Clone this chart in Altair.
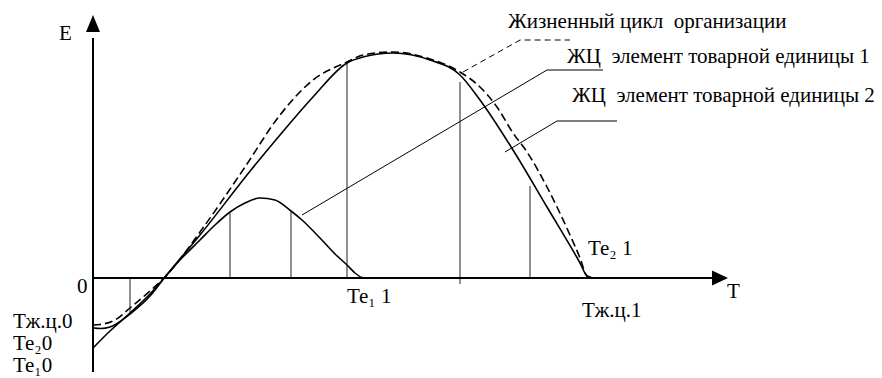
import altair as alt
import pandas as pd

# ---- values (t = time units, E = effect units) ----
# Life cycle of the organisation (dashed)
org_t = [0.0, 0.7, 2.2, 3.7, 5.7, 7.2, 10.7, 15.0, 18.7, 22.0, 25.4, 27.0, 30.0,
         33.7, 36.7, 38.7, 40.4, 42.0, 43.4, 45.4, 47.7, 48.7, 49.4, 50.0]
org_E = [-4.7, -4.65, -4.2, -3.0, -1.3, 0.1, 4.6, 10.8, 16.3, 19.8, 21.6, 22.3, 22.6,
         21.9, 20.6, 19.1, 17.1, 14.5, 12.6, 9.1, 4.3, 2.0, 0.2, 0.0]
# Life cycle of element of product unit 2 (big solid)
u2_t = [0.0, 0.8, 1.7, 3.7, 5.7, 7.2, 10.7, 15.8, 18.7, 22.0, 25.4, 27.0, 30.0,
        33.7, 36.7, 38.7, 42.0, 45.4, 48.7, 49.4, 50.0]
u2_E = [-5.0, -5.05, -4.9, -3.6, -1.8, 0.1, 4.3, 10.8, 14.3, 18.1, 21.5, 22.1, 22.5,
        21.8, 20.3, 17.8, 12.8, 7.1, 1.5, 0.2, 0.0]
# Life cycle of element of product unit 1 (small solid)
u1_t = [0.0, 1.7, 3.7, 5.7, 7.2, 8.7, 10.7, 12.2, 13.7, 15.2, 16.7, 18.2, 19.8,
        20.9, 22.7, 24.2, 25.4, 26.2, 26.9, 27.3]
u1_E = [-7.0, -5.3, -3.5, -1.6, 0.1, 1.8, 3.8, 5.3, 6.6, 7.5, 8.0, 7.8, 6.7,
        5.8, 4.0, 2.4, 1.3, 0.5, 0.05, 0.0]

# stage boundaries (vertical lines)
stage_t = [3.7, 13.7, 19.8, 25.4, 36.7, 43.7]
stage_lo = [-3.5, 0.0, 0.0, 0.0, -0.6, 0.0]
stage_hi = [0.0, 6.6, 6.7, 21.5, 19.6, 9.2]

# axes
x_axis_t = [0.0, 62.2]
y_axis_E = [-9.4, 24.0]
x_tip = 63.5
y_tip = 26.3

# leader lines
lead_org_t = [37.0, 42.7, 47.7]
lead_org_E = [20.6, 23.8, 23.8]
lead_1_t = [20.9, 45.4, 51.0]
lead_1_E = [6.3, 20.8, 20.8]
lead_2_t = [41.2, 46.4, 52.4]
lead_2_E = [12.6, 15.7, 15.7]

# text labels
lab_text = ["Жизненный цикл \u00a0организации",
            "ЖЦ \u00a0элемент товарной единицы 1",
            "ЖЦ \u00a0элемент товарной единицы 2",
            "E", "0", "T", "Тж.ц.1", "Те\u2082 1", "Те\u2081 1",
            "Тж.ц.0", "Те\u20820", "Те\u20810"]
lab_t = [41.5, 47.4, 47.9, -3.4, -1.6, 63.4, 48.9, 49.5, 25.4, -8.0, -8.0, -8.0]
lab_E = [25.0, 21.5, 17.6, 23.8, -1.5, -2.0, -3.9, 2.3, -2.5, -5.0, -7.2, -9.4]

# ---- build tables ----
org = pd.DataFrame({"t": org_t, "E": org_E})
u2 = pd.DataFrame({"t": u2_t, "E": u2_E})
u1 = pd.DataFrame({"t": u1_t, "E": u1_E})
stages = pd.DataFrame({"t": stage_t, "E": stage_lo, "E2": stage_hi})
axes = pd.DataFrame({
    "t": [x_axis_t[0], x_axis_t[1], 0.0, 0.0],
    "E": [0.0, 0.0, y_axis_E[0], y_axis_E[1]],
    "g": ["x", "x", "y", "y"],
    "o": [0, 1, 0, 1],
})
tips_x = pd.DataFrame({"t": [x_tip], "E": [0.0]})
tips_y = pd.DataFrame({"t": [0.0], "E": [y_tip]})
leads = pd.DataFrame({
    "t": lead_1_t + lead_2_t,
    "E": lead_1_E + lead_2_E,
    "g": ["a"] * 3 + ["b"] * 3,
    "o": [0, 1, 2] * 2,
})
lead_org = pd.DataFrame({"t": lead_org_t, "E": lead_org_E, "o": [0, 1, 2]})
labels = pd.DataFrame({"text": lab_text, "t": lab_t, "E": lab_E})

X = alt.X("t:Q", scale=alt.Scale(domain=[-8.5, 78.1], nice=False, zero=False), axis=None)
Y = alt.Y("E:Q", scale=alt.Scale(domain=[-10.0, 27.0], nice=False, zero=False), axis=None)

org_line = alt.Chart(org).mark_line(
    interpolate="monotone", color="black", strokeWidth=1.6, strokeDash=[8, 4]
).encode(x=X, y=Y)
u2_line = alt.Chart(u2).mark_line(
    interpolate="monotone", color="black", strokeWidth=1.6
).encode(x=X, y=Y)
u1_line = alt.Chart(u1).mark_line(
    interpolate="monotone", color="black", strokeWidth=1.6
).encode(x=X, y=Y)

stage_rules = alt.Chart(stages).mark_rule(color="#222222", strokeWidth=1).encode(
    x=X, y=Y, y2="E2:Q"
)
axis_lines = alt.Chart(axes).mark_line(color="black", strokeWidth=2).encode(
    x=X, y=Y, detail="g:N", order="o:Q"
)
arrow_x = alt.Chart(tips_x).mark_point(
    shape="M0,0L-2,-0.94L-2,0.94Z", size=256, filled=True, color="black", opacity=1
).encode(x=X, y=Y)
arrow_y = alt.Chart(tips_y).mark_point(
    shape="M0,0L0.82,2L-0.82,2Z", size=289, filled=True, color="black", opacity=1
).encode(x=X, y=Y)
lead_lines = alt.Chart(leads).mark_line(color="black", strokeWidth=1).encode(
    x=X, y=Y, detail="g:N", order="o:Q"
)
lead_org_line = alt.Chart(lead_org).mark_line(
    color="black", strokeWidth=1, strokeDash=[6, 4]
).encode(x=X, y=Y, order="o:Q")

text = alt.Chart(labels).mark_text(
    align="left", baseline="alphabetic", font="Liberation Serif",
    fontSize=21, color="black"
).encode(x=X, y=Y, text="text:N")

chart = alt.layer(
    stage_rules, axis_lines, arrow_x, arrow_y, org_line, u2_line, u1_line,
    lead_lines, lead_org_line, text
).properties(
    width=866, height=370, padding=0, autosize=alt.AutoSizeParams(type="none")
).configure_view(stroke=None)

chart.save("out.html", embed_options={"renderer": "svg", "actions": False})
